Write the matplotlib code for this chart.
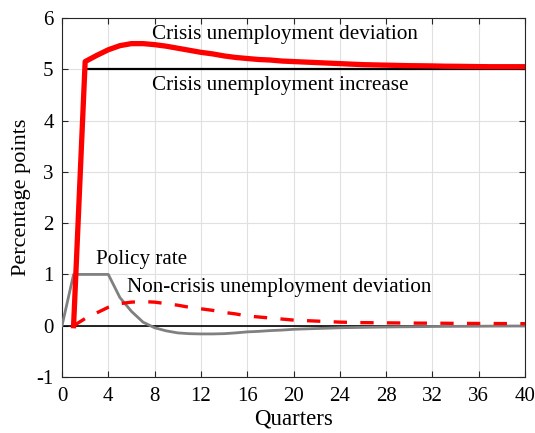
import matplotlib
matplotlib.use("Agg")
import matplotlib.pyplot as plt
import numpy as np

plt.rcParams['font.family'] = ['Liberation Serif', 'DejaVu Serif']
plt.rcParams['axes.unicode_minus'] = False

quarters = list(range(41))
crisis_dev = [0.0, 0.0, 5.15, 5.27, 5.38, 5.46, 5.50, 5.50, 5.48, 5.45, 5.41,
              5.37, 5.33, 5.30, 5.26, 5.23, 5.21, 5.19, 5.18, 5.16, 5.15,
              5.14, 5.13, 5.12, 5.11, 5.10, 5.09, 5.085, 5.08, 5.075, 5.07,
              5.068, 5.065, 5.06, 5.058, 5.055, 5.052, 5.05, 5.05, 5.05, 5.05]
crisis_inc_x = [2, 40]
crisis_inc = [5.0, 5.0]
noncrisis_dev = [np.nan, 0.0, 0.14, 0.25, 0.36, 0.43, 0.46, 0.47, 0.46, 0.43, 0.40,
                 0.36, 0.33, 0.30, 0.26, 0.23, 0.19, 0.17, 0.15, 0.13, 0.11,
                 0.10, 0.09, 0.08, 0.07, 0.065, 0.06, 0.058, 0.056, 0.054, 0.052,
                 0.05, 0.05, 0.048, 0.046, 0.045, 0.044, 0.043, 0.042, 0.041, 0.04]
policy_rate = [0.0, 1.0, 1.0, 1.0, 1.0, 0.55, 0.28, 0.07, -0.04, -0.10, -0.14,
               -0.155, -0.16, -0.16, -0.155, -0.14, -0.12, -0.11, -0.095, -0.085, -0.07,
               -0.062, -0.055, -0.048, -0.04, -0.036, -0.032, -0.028, -0.025, -0.022, -0.02,
               -0.018, -0.015, -0.013, -0.012, -0.011, -0.01, -0.008, -0.007, -0.006, -0.005]
crisis_x = [1] + quarters[2:]
crisis_y = [0.0] + crisis_dev[2:]

fig = plt.figure(figsize=(5.35, 4.33), dpi=100)
ax = fig.add_axes([0.1159, 0.1293, 0.8654, 0.8292])

ax.axhline(0, color='black', lw=1.2, zorder=2)
ax.plot(quarters, policy_rate, color='#808080', lw=2.0, zorder=3)
ax.plot(quarters, noncrisis_dev, color='red', lw=2.4, ls=(0, (4, 4)), zorder=4)
ax.plot(crisis_inc_x, crisis_inc, color='black', lw=1.6, zorder=3)
ax.plot(crisis_x, crisis_y, color='red', lw=3.8, zorder=5)

fs = 15.2
ax.text(7.8, 5.67, 'Crisis unemployment deviation', fontsize=fs, va='center', ha='left')
ax.text(7.8, 4.68, 'Crisis unemployment increase', fontsize=fs, va='center', ha='left')
ax.text(2.9, 1.29, 'Policy rate', fontsize=fs, va='center', ha='left')
ax.text(5.6, 0.74, 'Non-crisis unemployment deviation', fontsize=fs, va='center', ha='left')

ax.set_xlim(0, 40)
ax.set_ylim(-1, 6)
ax.set_xticks(range(0, 41, 4))
ax.set_yticks(range(-1, 7))
ax.grid(True, color='#e0e0e0', lw=0.8)
ax.set_axisbelow(True)
ax.tick_params(direction='in', labelsize=15, length=4, color='#262626', top=True, right=True,
               labeltop=False, labelright=False)
ax.tick_params(axis='x', pad=7)
ax.tick_params(axis='y', pad=6)
for s in ax.spines.values():
    s.set_color('#262626')
    s.set_linewidth(0.8)
ax.set_xlabel('Quarters', fontsize=16.5, labelpad=2)
ax.set_ylabel('Percentage points', fontsize=16, labelpad=4)

fig.savefig('out.png', dpi=100)
